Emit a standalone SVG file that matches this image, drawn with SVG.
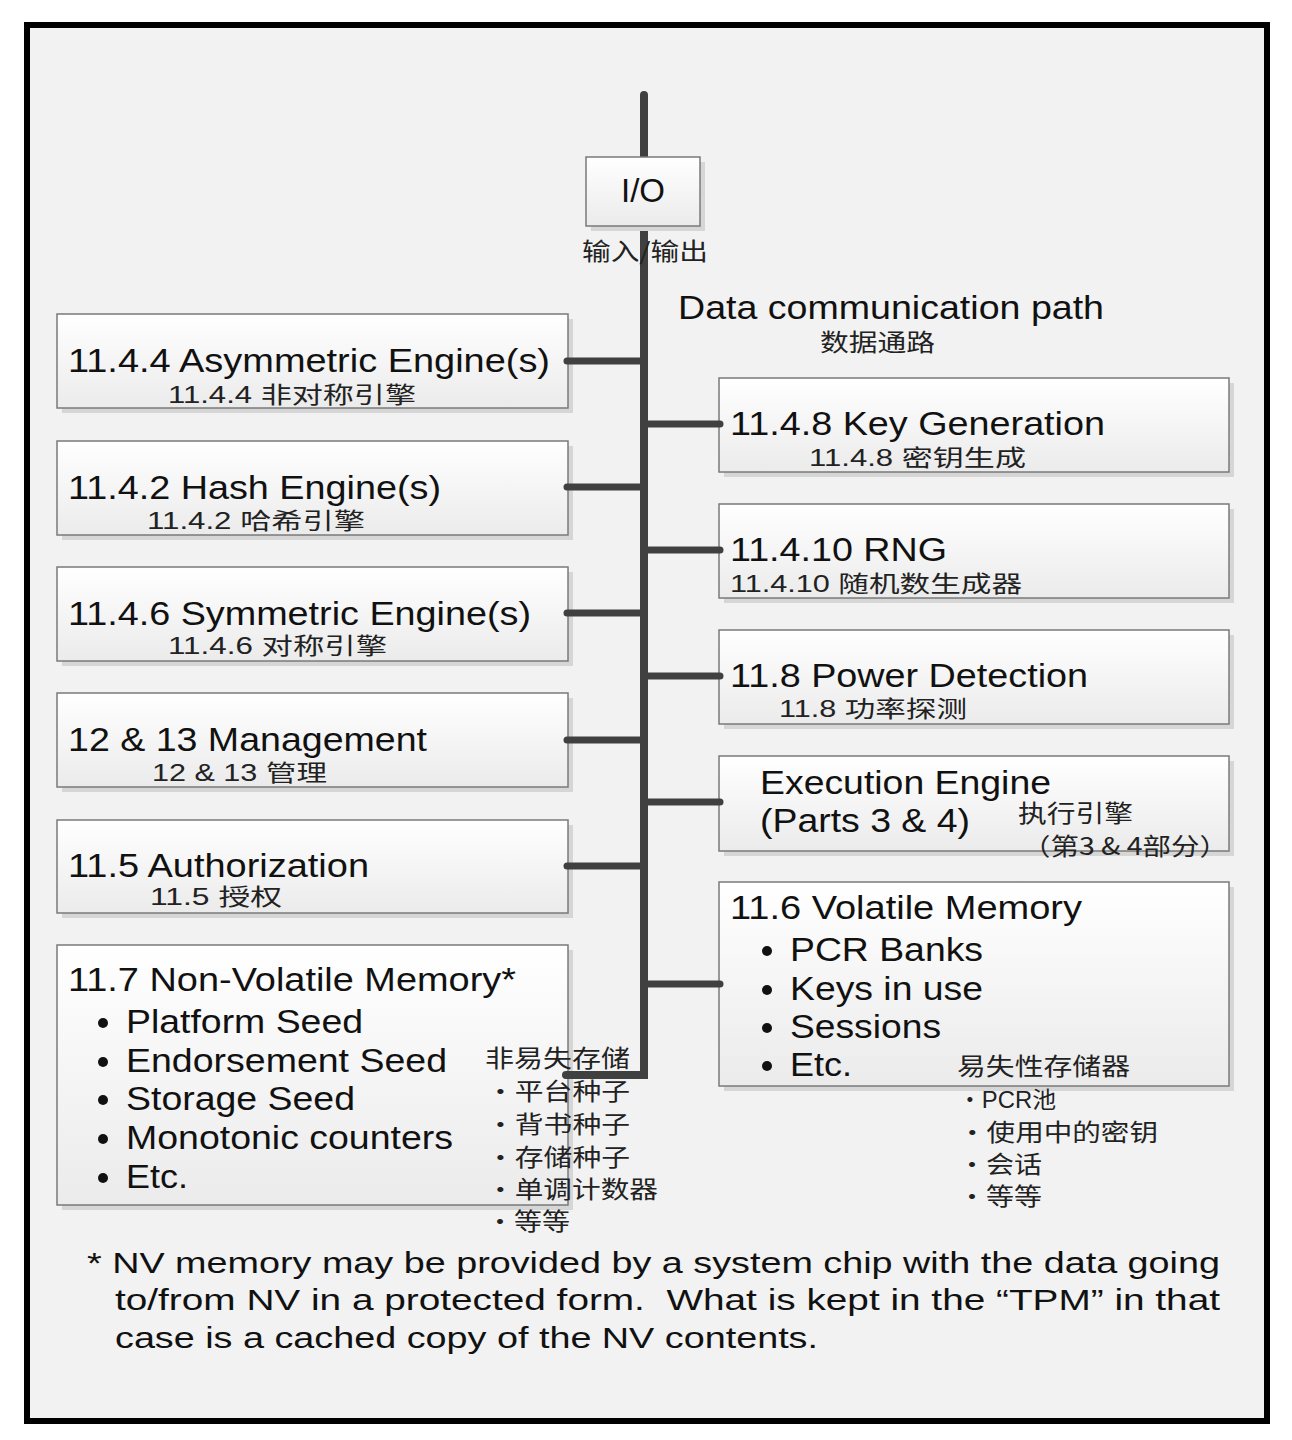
<svg xmlns="http://www.w3.org/2000/svg" width="1292" height="1440" viewBox="0 0 1292 1440">
<defs>
<linearGradient id="bg" x1="0" y1="0" x2="0" y2="1">
<stop offset="0" stop-color="#ffffff"/>
<stop offset="1" stop-color="#ebebeb"/>
</linearGradient>
<style>
.box{fill:url(#bg);stroke:#7a7a7a;stroke-width:1.5}
.sh{fill:#d6d6d6}
.en{font-family:"Liberation Sans",Arial,sans-serif;font-size:33px;fill:#111}
.ft{font-family:"Liberation Sans",Arial,sans-serif;font-size:30px;fill:#111}
.cn{font-family:"Liberation Sans","Noto Sans CJK SC",sans-serif;font-size:23px;fill:#222}
.cl{font-family:"Noto Sans CJK SC",sans-serif;font-size:24px;fill:#222}
.bus{fill:none;stroke:#404040;stroke-width:8;stroke-linecap:round;stroke-linejoin:miter}
.br{stroke:#404040;stroke-width:7;stroke-linecap:round}
.dot{fill:#111}
</style>
</defs>
<rect x="27" y="25" width="1240" height="1396" fill="#f2f2f2" stroke="#000" stroke-width="6"/>

<g id="asym">
<rect class="sh" x="62" y="319" width="511" height="94"/>
<rect class="box" x="57" y="314" width="511" height="94"/>
<text class="en" x="68" y="372" textLength="482" lengthAdjust="spacingAndGlyphs">11.4.4 Asymmetric Engine(s)</text>
<text class="cn" x="168" y="403" textLength="248" lengthAdjust="spacingAndGlyphs">11.4.4 非对称引擎</text>
</g>

<g id="hash">
<rect class="sh" x="62" y="446" width="511" height="94"/>
<rect class="box" x="57" y="441" width="511" height="94"/>
<text class="en" x="68" y="499" textLength="373" lengthAdjust="spacingAndGlyphs">11.4.2 Hash Engine(s)</text>
<text class="cn" x="147" y="529" textLength="218" lengthAdjust="spacingAndGlyphs">11.4.2 哈希引擎</text>
</g>

<g id="sym">
<rect class="sh" x="62" y="572" width="511" height="94"/>
<rect class="box" x="57" y="567" width="511" height="94"/>
<text class="en" x="68" y="625" textLength="463" lengthAdjust="spacingAndGlyphs">11.4.6 Symmetric Engine(s)</text>
<text class="cn" x="168" y="654" textLength="219" lengthAdjust="spacingAndGlyphs">11.4.6 对称引擎</text>
</g>

<g id="mgmt">
<rect class="sh" x="62" y="698" width="511" height="94"/>
<rect class="box" x="57" y="693" width="511" height="94"/>
<text class="en" x="68" y="751" textLength="359" lengthAdjust="spacingAndGlyphs">12 &amp; 13 Management</text>
<text class="cn" x="152" y="781" textLength="175" lengthAdjust="spacingAndGlyphs">12 &amp; 13 管理</text>
</g>

<g id="auth">
<rect class="sh" x="62" y="825" width="511" height="93"/>
<rect class="box" x="57" y="820" width="511" height="93"/>
<text class="en" x="68" y="877" textLength="301" lengthAdjust="spacingAndGlyphs">11.5 Authorization</text>
<text class="cn" x="150" y="905" textLength="132" lengthAdjust="spacingAndGlyphs">11.5 授权</text>
</g>

<g id="nvmem">
<rect class="sh" x="62" y="950" width="511" height="260"/>
<rect class="box" x="57" y="945" width="511" height="260"/>
<text class="en" x="68" y="991" textLength="448" lengthAdjust="spacingAndGlyphs">11.7 Non-Volatile Memory*</text>
<circle class="dot" cx="103" cy="1023" r="5"/>
<text class="en" x="126" y="1033" textLength="237" lengthAdjust="spacingAndGlyphs">Platform Seed</text>
<circle class="dot" cx="103" cy="1062" r="5"/>
<text class="en" x="126" y="1072" textLength="321" lengthAdjust="spacingAndGlyphs">Endorsement Seed</text>
<circle class="dot" cx="103" cy="1100" r="5"/>
<text class="en" x="126" y="1110" textLength="229" lengthAdjust="spacingAndGlyphs">Storage Seed</text>
<circle class="dot" cx="103" cy="1139" r="5"/>
<text class="en" x="126" y="1149" textLength="327" lengthAdjust="spacingAndGlyphs">Monotonic counters</text>
<circle class="dot" cx="103" cy="1178" r="5"/>
<text class="en" x="126" y="1188" textLength="62" lengthAdjust="spacingAndGlyphs">Etc.</text>
</g>

<g id="keygen">
<rect class="sh" x="724" y="383" width="510" height="94"/>
<rect class="box" x="719" y="378" width="510" height="94"/>
<text class="en" x="730" y="435" textLength="375" lengthAdjust="spacingAndGlyphs">11.4.8 Key Generation</text>
<text class="cn" x="809" y="466" textLength="217" lengthAdjust="spacingAndGlyphs">11.4.8 密钥生成</text>
</g>

<g id="rng">
<rect class="sh" x="724" y="509" width="510" height="94"/>
<rect class="box" x="719" y="504" width="510" height="94"/>
<text class="en" x="730" y="561" textLength="217" lengthAdjust="spacingAndGlyphs">11.4.10 RNG</text>
<text class="cn" x="730" y="592" textLength="292" lengthAdjust="spacingAndGlyphs">11.4.10 随机数生成器</text>
</g>

<g id="power">
<rect class="sh" x="724" y="635" width="510" height="94"/>
<rect class="box" x="719" y="630" width="510" height="94"/>
<text class="en" x="730" y="687" textLength="358" lengthAdjust="spacingAndGlyphs">11.8 Power Detection</text>
<text class="cn" x="779" y="717" textLength="188" lengthAdjust="spacingAndGlyphs">11.8 功率探测</text>
</g>

<g id="exec">
<rect class="sh" x="724" y="761" width="510" height="95"/>
<rect class="box" x="719" y="756" width="510" height="95"/>
<text class="en" x="760" y="794" textLength="291" lengthAdjust="spacingAndGlyphs">Execution Engine</text>
<text class="en" x="760" y="832" textLength="210" lengthAdjust="spacingAndGlyphs">(Parts 3 &amp; 4)</text>
<text class="cl" x="1018" y="822" textLength="115" lengthAdjust="spacingAndGlyphs">执行引擎</text>
<text class="cl" x="1022" y="855" textLength="206" lengthAdjust="spacingAndGlyphs">（第3 &amp; 4部分）</text>
</g>

<g id="vmem">
<rect class="sh" x="724" y="887" width="510" height="204"/>
<rect class="box" x="719" y="882" width="510" height="204"/>
<text class="en" x="730" y="919" textLength="352" lengthAdjust="spacingAndGlyphs">11.6 Volatile Memory</text>
<circle class="dot" cx="767" cy="951" r="5"/>
<text class="en" x="790" y="961" textLength="193" lengthAdjust="spacingAndGlyphs">PCR Banks</text>
<circle class="dot" cx="767" cy="990" r="5"/>
<text class="en" x="790" y="1000" textLength="193" lengthAdjust="spacingAndGlyphs">Keys in use</text>
<circle class="dot" cx="767" cy="1028" r="5"/>
<text class="en" x="790" y="1038" textLength="151" lengthAdjust="spacingAndGlyphs">Sessions</text>
<circle class="dot" cx="767" cy="1066" r="5"/>
<text class="en" x="790" y="1076" textLength="62" lengthAdjust="spacingAndGlyphs">Etc.</text>
<text class="cl" x="957" y="1075" textLength="173" lengthAdjust="spacingAndGlyphs">易失性存储器</text>
<text class="cn" x="958" y="1108" textLength="98" lengthAdjust="spacingAndGlyphs">・PCR池</text>
<text class="cl" x="958" y="1141" textLength="200" lengthAdjust="spacingAndGlyphs">・使用中的密钥</text>
<text class="cl" x="958" y="1173" textLength="84" lengthAdjust="spacingAndGlyphs">・会话</text>
<text class="cl" x="958" y="1205" textLength="84" lengthAdjust="spacingAndGlyphs">・等等</text>
</g>

<g id="connectors">
<path class="bus" d="M644,95 V1075 H566"/>
<line class="br" x1="567" y1="361" x2="644" y2="361"/>
<line class="br" x1="567" y1="487" x2="644" y2="487"/>
<line class="br" x1="567" y1="613" x2="644" y2="613"/>
<line class="br" x1="567" y1="740" x2="644" y2="740"/>
<line class="br" x1="567" y1="866" x2="644" y2="866"/>
<line class="br" x1="644" y1="424" x2="720" y2="424"/>
<line class="br" x1="644" y1="550" x2="720" y2="550"/>
<line class="br" x1="644" y1="676" x2="720" y2="676"/>
<line class="br" x1="644" y1="802" x2="720" y2="802"/>
<line class="br" x1="644" y1="984" x2="720" y2="984"/>
</g>

<g id="nvlabel">
<text class="cl" x="485" y="1067" textLength="145" lengthAdjust="spacingAndGlyphs">非易失存储</text>
<text class="cl" x="486" y="1100" textLength="144" lengthAdjust="spacingAndGlyphs">・平台种子</text>
<text class="cl" x="486" y="1133" textLength="144" lengthAdjust="spacingAndGlyphs">・背书种子</text>
<text class="cl" x="486" y="1166" textLength="144" lengthAdjust="spacingAndGlyphs">・存储种子</text>
<text class="cl" x="486" y="1198" textLength="172" lengthAdjust="spacingAndGlyphs">・单调计数器</text>
<text class="cl" x="486" y="1230" textLength="84" lengthAdjust="spacingAndGlyphs">・等等</text>
</g>

<g id="io">
<rect class="sh" x="591" y="162" width="114" height="69"/>
<rect class="box" x="586" y="157" width="114" height="69"/>
<text class="en" x="643" y="202" text-anchor="middle" font-size="32">I/O</text>
<text class="cl" x="582" y="260" textLength="126" lengthAdjust="spacingAndGlyphs">输入/输出</text>
</g>

<g id="datapath">
<text class="en" x="678" y="319" textLength="426" lengthAdjust="spacingAndGlyphs">Data communication path</text>
<text class="cl" x="820" y="351" textLength="115" lengthAdjust="spacingAndGlyphs">数据通路</text>
</g>

<g id="footnote">
<text class="ft" x="87" y="1273" textLength="1133" lengthAdjust="spacingAndGlyphs">* NV memory may be provided by a system chip with the data going</text>
<text class="ft" x="115" y="1310" textLength="1105" lengthAdjust="spacingAndGlyphs" xml:space="preserve">to/from NV in a protected form.  What is kept in the “TPM” in that</text>
<text class="ft" x="115" y="1348" textLength="703" lengthAdjust="spacingAndGlyphs">case is a cached copy of the NV contents.</text>
</g>
</svg>
